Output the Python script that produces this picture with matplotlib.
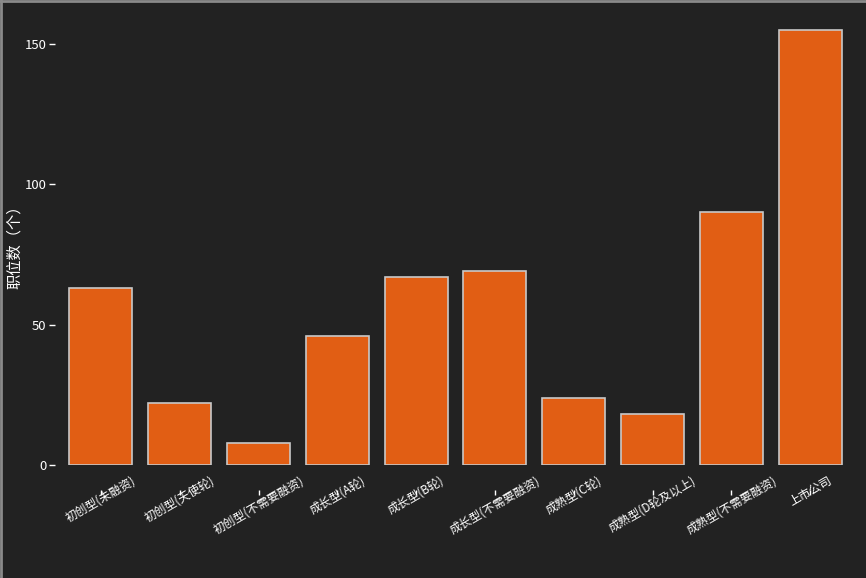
import numpy as np
import matplotlib.pyplot as plt

plt.rcParams['font.family'] = ['Noto Sans CJK SC', 'DejaVu Sans']

categories = ['初创型(未融资)', '初创型(天使轮)', '初创型(不需要融资)', '成长型(A轮)', '成长型(B轮)',
              '成长型(不需要融资)', '成熟型(C轮)', '成熟型(D轮及以上)', '成熟型(不需要融资)', '上市公司']
counts = [63, 22, 8, 46, 67, 69, 24, 18, 90, 155]

bg = '#222222'
fig = plt.figure(figsize=(8.66, 5.78), dpi=100, facecolor=bg)
ax = fig.add_axes([0.071, 0.1955, 0.910, 0.791])
ax.set_facecolor(bg)

x = np.arange(len(categories))
ax.bar(x, counts, width=0.8, color='#e15e14', edgecolor='#c8c8c8', linewidth=1.2)
ax.set_xlim(-0.5, len(categories) - 0.5)
ax.set_ylim(0, max(counts) * 1.05)

for s in ax.spines.values():
    s.set_visible(False)
ax.spines['bottom'].set_position(('outward', 18))
ax.spines['left'].set_position(('outward', 5))

ax.tick_params(axis='x', colors='white', length=3.5, width=1, pad=-15)
ax.tick_params(axis='y', colors='white', length=4, width=1, pad=2, labelsize=9.5)

ax.set_yticks([0, 50, 100, 150])
ax.set_xticks(x)
ax.set_xticklabels(categories, fontsize=8.5, color='white')
plt.setp(ax.get_xticklabels(), rotation=30, ha='center', rotation_mode='default')

ax.set_ylabel('职位数（个）', color='white', fontsize=11)
ax.yaxis.set_label_coords(-0.049, 0.485)

# thin frame on the left and top edges
fig.add_artist(plt.Line2D([0.001, 0.001], [0, 1], color='#8a8a8a', lw=2, transform=fig.transFigure))
fig.add_artist(plt.Line2D([0, 1], [0.999, 0.999], color='#8a8a8a', lw=2, transform=fig.transFigure))

fig.savefig('out.png', dpi=100, facecolor=bg)
